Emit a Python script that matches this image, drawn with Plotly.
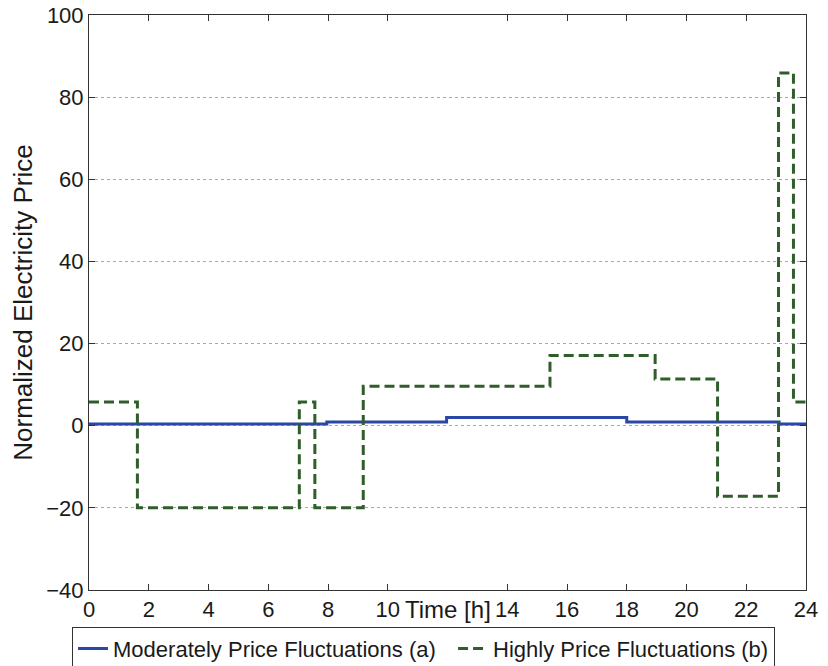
import plotly.graph_objects as go

# Data (step functions, value holds from each breakpoint until the next)
hours_a = [0, 7.96, 11.97, 18.0, 23.1, 24]
price_a = [0.4, 0.9, 2.0, 0.9, 0.4, 0.4]

hours_b = [0, 1.62, 7.04, 7.56, 9.18, 15.43, 18.95, 21.04, 23.08, 23.58, 24]
price_b = [5.8, -20, 5.8, -20, 9.6, 17.1, 11.4, -17.2, 85.9, 5.8, 5.8]

x_ticks = [0, 2, 4, 6, 8, 10, 14, 16, 18, 20, 22, 24]
y_ticks = [-40, -20, 0, 20, 40, 60, 80, 100]

name_a = "Moderately Price Fluctuations (a)"
name_b = "Highly Price Fluctuations (b)"

FONT = "Liberation Sans, Arial, sans-serif"
PAD = "&nbsp;" * 2

fig = go.Figure()
fig.add_trace(go.Scatter(x=hours_a, y=price_a, mode="lines", line_shape="hv",
                         name=name_a + PAD, line=dict(color="#2a46a6", width=3)))
fig.add_trace(go.Scatter(x=hours_b, y=price_b, mode="lines", line_shape="hv",
                         name=name_b, line=dict(color="#2f5e2a", width=3, dash="10px,5px")))

fig.update_layout(
    width=828, height=666,
    margin=dict(l=89, r=22, t=15, b=76, autoexpand=False),
    paper_bgcolor="white", plot_bgcolor="white",
    font=dict(family=FONT, size=22, color="#1a1a1a"),
    showlegend=True,
    legend=dict(orientation="h", xref="container", yref="container",
                x=0.087, y=0.059, xanchor="left", yanchor="top",
                bordercolor="#333333", borderwidth=1, bgcolor="white",
                font=dict(size=22), itemwidth=30, tracegroupgap=0),
    xaxis=dict(range=[0, 24], tickvals=x_ticks, ticks="inside", ticklen=6,
               tickcolor="#333333", showline=True, linecolor="#333333", linewidth=1,
               mirror="ticks", showgrid=False, zeroline=False,
               tickfont=dict(size=22)),
    yaxis=dict(range=[-40, 100], tickvals=y_ticks, ticks="inside", ticklen=6,
               tickcolor="#333333", showline=True, linecolor="#333333", linewidth=1,
               mirror="ticks", showgrid=True, gridcolor="#a8a8a8", gridwidth=1,
               griddash="dot", zeroline=False, tickfont=dict(size=22),
               title=dict(text="Normalized Electricity Price", font=dict(size=26),
                          standoff=6)),
)

fig.add_annotation(text="Time [h]", x=12, xref="x", y=0, yref="paper",
                   yanchor="top", yshift=-4, showarrow=False,
                   font=dict(size=24, family=FONT, color="#1a1a1a"))

fig.write_html("out.html", config={"displayModeBar": False},
               post_script="document.body.style.margin='0';document.body.style.overflow='hidden';")
